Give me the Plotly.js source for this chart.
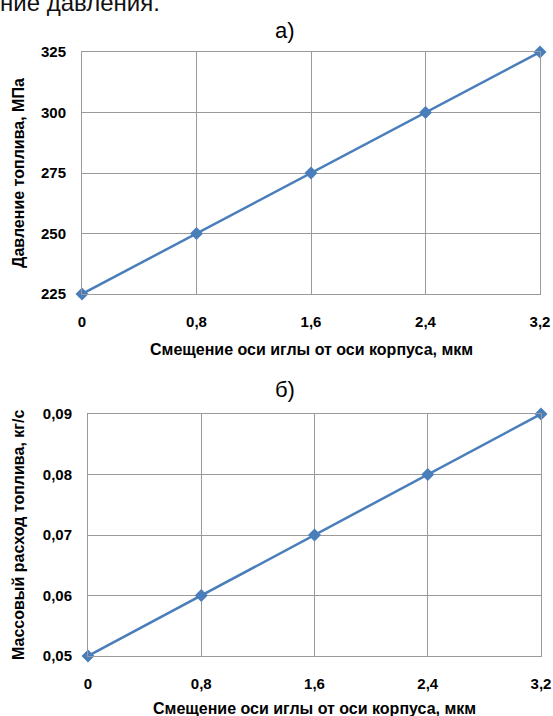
<!DOCTYPE html>
<html>
<head>
<meta charset="utf-8">
<script src="https://cdn.plot.ly/plotly-3.0.1.min.js"></script>
<style>html,body{margin:0;padding:0;background:#fff;}#chart{width:553px;height:716px;}</style>
</head>
<body>
<div id="chart"></div>
<script>
const displacement = [0, 0.8, 1.6, 2.4, 3.2];
const pressure = [225, 250, 275, 300, 325];
const massFlow = [0.05, 0.06, 0.07, 0.08, 0.09];
const xTickLabels = ["0", "0,8", "1,6", "2,4", "3,2"];
const pressureTicks = [225, 250, 275, 300, 325];
const pressureTickLabels = ["225", "250", "275", "300", "325"];
const flowTicks = [0.05, 0.06, 0.07, 0.08, 0.09];
const flowTickLabels = ["0,05", "0,06", "0,07", "0,08", "0,09"];

const W = 553, H = 716;
const px = v => v / W;
const py = v => 1 - v / H;

const lineColor = "#4A7EBB";
const gridColor = "#9A9A9A";
const fontFam = "Liberation Sans, Arial, sans-serif";
const tickFont = {family: fontFam, size: 15, color: "#000", weight: "bold"};
const bold = s => "<b>" + s + "</b>";

const traceA = {
  x: displacement, y: pressure, xaxis: "x", yaxis: "y",
  mode: "lines+markers", type: "scatter", cliponaxis: false,
  line: {color: lineColor, width: 2.5},
  marker: {symbol: "diamond", size: 10, color: lineColor},
  hoverinfo: "skip"
};
const traceB = {
  x: displacement, y: massFlow, xaxis: "x2", yaxis: "y2",
  mode: "lines+markers", type: "scatter", cliponaxis: false,
  line: {color: lineColor, width: 2.5},
  marker: {symbol: "diamond", size: 10, color: lineColor},
  hoverinfo: "skip"
};

function xAxis(domain, anchor) {
  return {
    domain: domain, anchor: anchor, range: [0, 3.2],
    tickvals: displacement, ticktext: xTickLabels.map(bold),
    showgrid: true, gridcolor: gridColor, gridwidth: 1,
    showline: true, linecolor: gridColor, linewidth: 1, mirror: true,
    zeroline: false, ticks: "", ticklabelstandoff: 14,
    tickfont: tickFont
  };
}
function yAxis(domain, anchor, range, vals, text) {
  return {
    domain: domain, anchor: anchor, range: range,
    tickvals: vals, ticktext: text.map(bold),
    showgrid: true, gridcolor: gridColor, gridwidth: 1,
    showline: true, linecolor: gridColor, linewidth: 1, mirror: true,
    zeroline: false, ticks: "", ticklabelstandoff: 12,
    tickfont: tickFont
  };
}

const layout = {
  width: W, height: H,
  margin: {l: 0, r: 0, t: 0, b: 0},
  paper_bgcolor: "#fff", plot_bgcolor: "#fff",
  showlegend: false,
  font: {family: fontFam, color: "#000"},
  xaxis: xAxis([px(82), px(540)], "y"),
  yaxis: yAxis([py(294), py(52)], "x", [225, 325], pressureTicks, pressureTickLabels),
  xaxis2: xAxis([px(88), px(541)], "y2"),
  yaxis2: yAxis([py(656), py(414)], "x2", [0.05, 0.09], flowTicks, flowTickLabels),
  annotations: [
    {text: "ние давления.", xref: "paper", yref: "paper", x: px(-2), y: py(2), xanchor: "left", yanchor: "middle",
     showarrow: false, font: {family: fontFam, size: 24, color: "#111"}},
    {text: "а)", xref: "paper", yref: "paper", x: px(285), y: py(30), xanchor: "center", yanchor: "middle",
     showarrow: false, font: {family: fontFam, size: 22, color: "#000"}},
    {text: "б)", xref: "paper", yref: "paper", x: px(285), y: py(390), xanchor: "center", yanchor: "middle",
     showarrow: false, font: {family: fontFam, size: 22, color: "#000"}},
    {text: bold("Смещение оси иглы от оси корпуса, мкм"), xref: "paper", yref: "paper", x: px(311), y: py(349), xanchor: "center", yanchor: "middle",
     showarrow: false, font: {family: fontFam, size: 16, color: "#000"}},
    {text: bold("Смещение оси иглы от оси корпуса, мкм"), xref: "paper", yref: "paper", x: px(314), y: py(708), xanchor: "center", yanchor: "middle",
     showarrow: false, font: {family: fontFam, size: 16, color: "#000"}},
    {text: bold("Давление топлива, МПа"), xref: "paper", yref: "paper", x: px(18), y: py(173), xanchor: "center", yanchor: "middle",
     textangle: -90, showarrow: false, font: {family: fontFam, size: 16, color: "#000"}},
    {text: bold("Массовый расход топлива, кг/с"), xref: "paper", yref: "paper", x: px(18), y: py(535), xanchor: "center", yanchor: "middle",
     textangle: -90, showarrow: false, font: {family: fontFam, size: 16, color: "#000"}}
  ]
};

Plotly.newPlot("chart", [traceA, traceB], layout, {staticPlot: true, displayModeBar: false});
</script>
</body>
</html>
